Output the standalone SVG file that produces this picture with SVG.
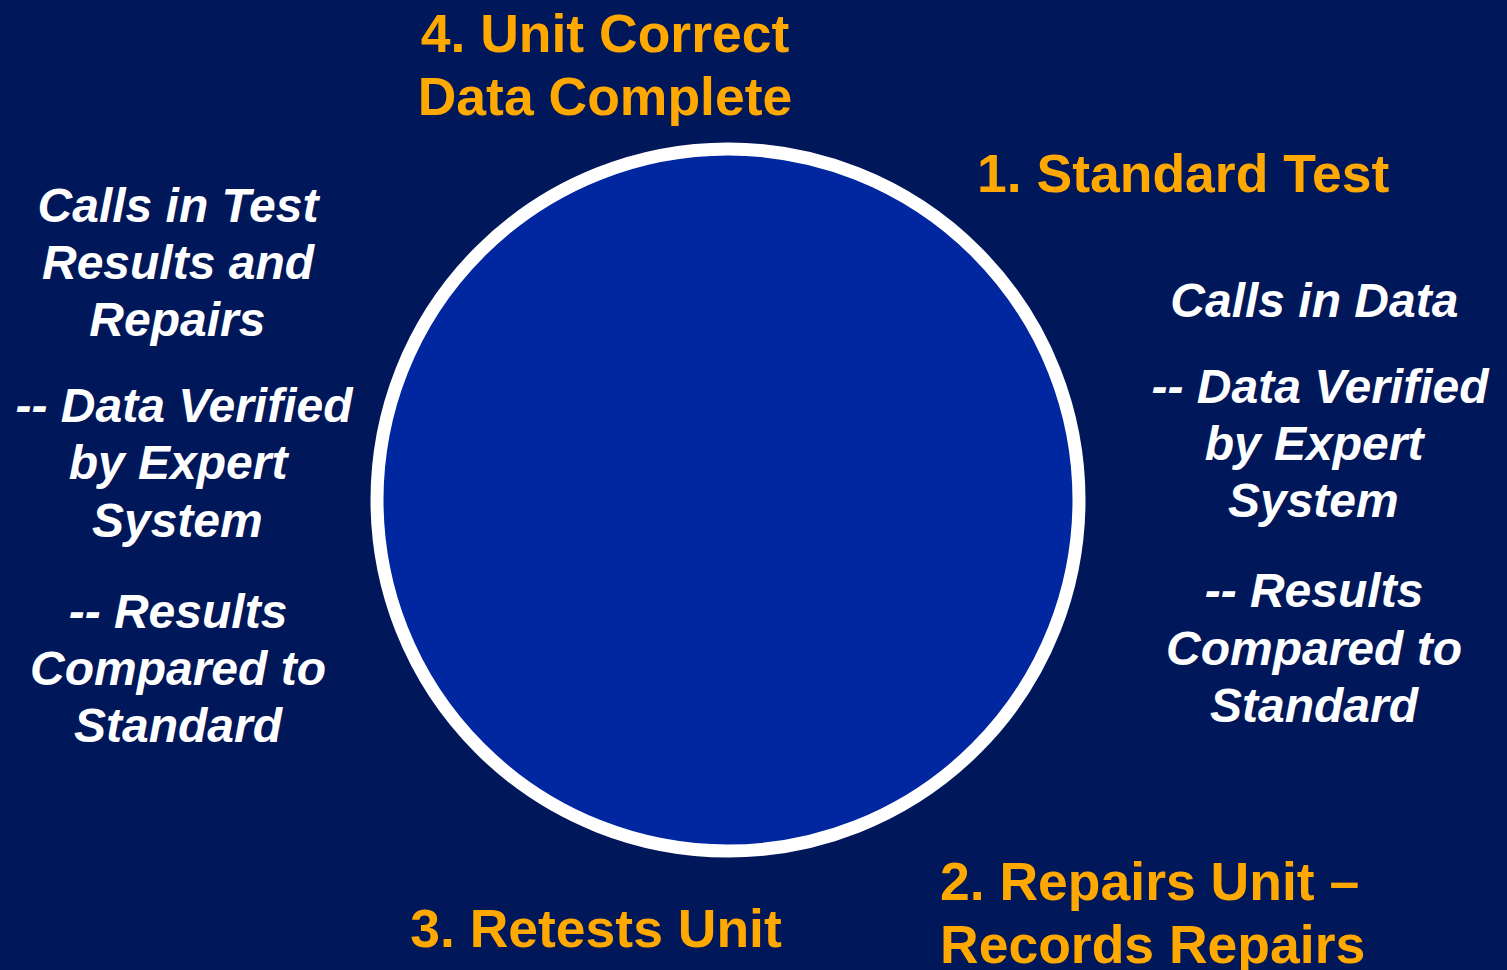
<svg xmlns="http://www.w3.org/2000/svg" width="1507" height="970" viewBox="0 0 1507 970">
<style>
.o{font-family:"Liberation Sans",Arial,sans-serif;font-weight:bold;font-size:53.5px;fill:#FFA800}
.w{font-family:"Liberation Sans",Arial,sans-serif;font-weight:bold;font-style:italic;font-size:48px;fill:#FFFFFF;text-anchor:middle}
</style>
<rect width="1507" height="970" fill="#00175A"/>
<g id="cycle">
<circle cx="728" cy="500" r="351" fill="#0026A0" stroke="#FFFFFF" stroke-width="13"/>
</g>
<g id="step4"><text class="o" text-anchor="middle"><tspan x="605" y="52">4. Unit Correct</tspan><tspan x="605" y="115">Data Complete</tspan></text></g>
<g id="step1"><text class="o" x="977" y="192">1. Standard Test</text></g>
<g id="step2"><text class="o"><tspan x="940" y="900">2. Repairs Unit –</tspan><tspan x="940" y="963">Records Repairs</tspan></text></g>
<g id="step3"><text class="o" text-anchor="middle" x="596" y="947">3. Retests Unit</text></g>
<g id="left-notes"><text class="w">
<tspan x="178" y="222">Calls in Test</tspan><tspan x="178" y="279">Results and</tspan><tspan x="184" y="336">Repairs</tspan>
<tspan x="184" y="422">-- Data Verified</tspan><tspan x="178" y="479">by Expert</tspan><tspan x="184" y="537">System</tspan>
<tspan x="178" y="628">-- Results</tspan><tspan x="178" y="685">Compared to</tspan><tspan x="178" y="742">Standard</tspan>
</text></g>
<g id="right-notes"><text class="w">
<tspan x="1321" y="317">Calls in Data</tspan>
<tspan x="1320" y="403">-- Data Verified</tspan><tspan x="1314" y="460">by Expert</tspan><tspan x="1320" y="517">System</tspan>
<tspan x="1314" y="607">-- Results</tspan><tspan x="1314" y="665">Compared to</tspan><tspan x="1314" y="722">Standard</tspan>
</text></g>
<g id="connectors"></g>
</svg>
